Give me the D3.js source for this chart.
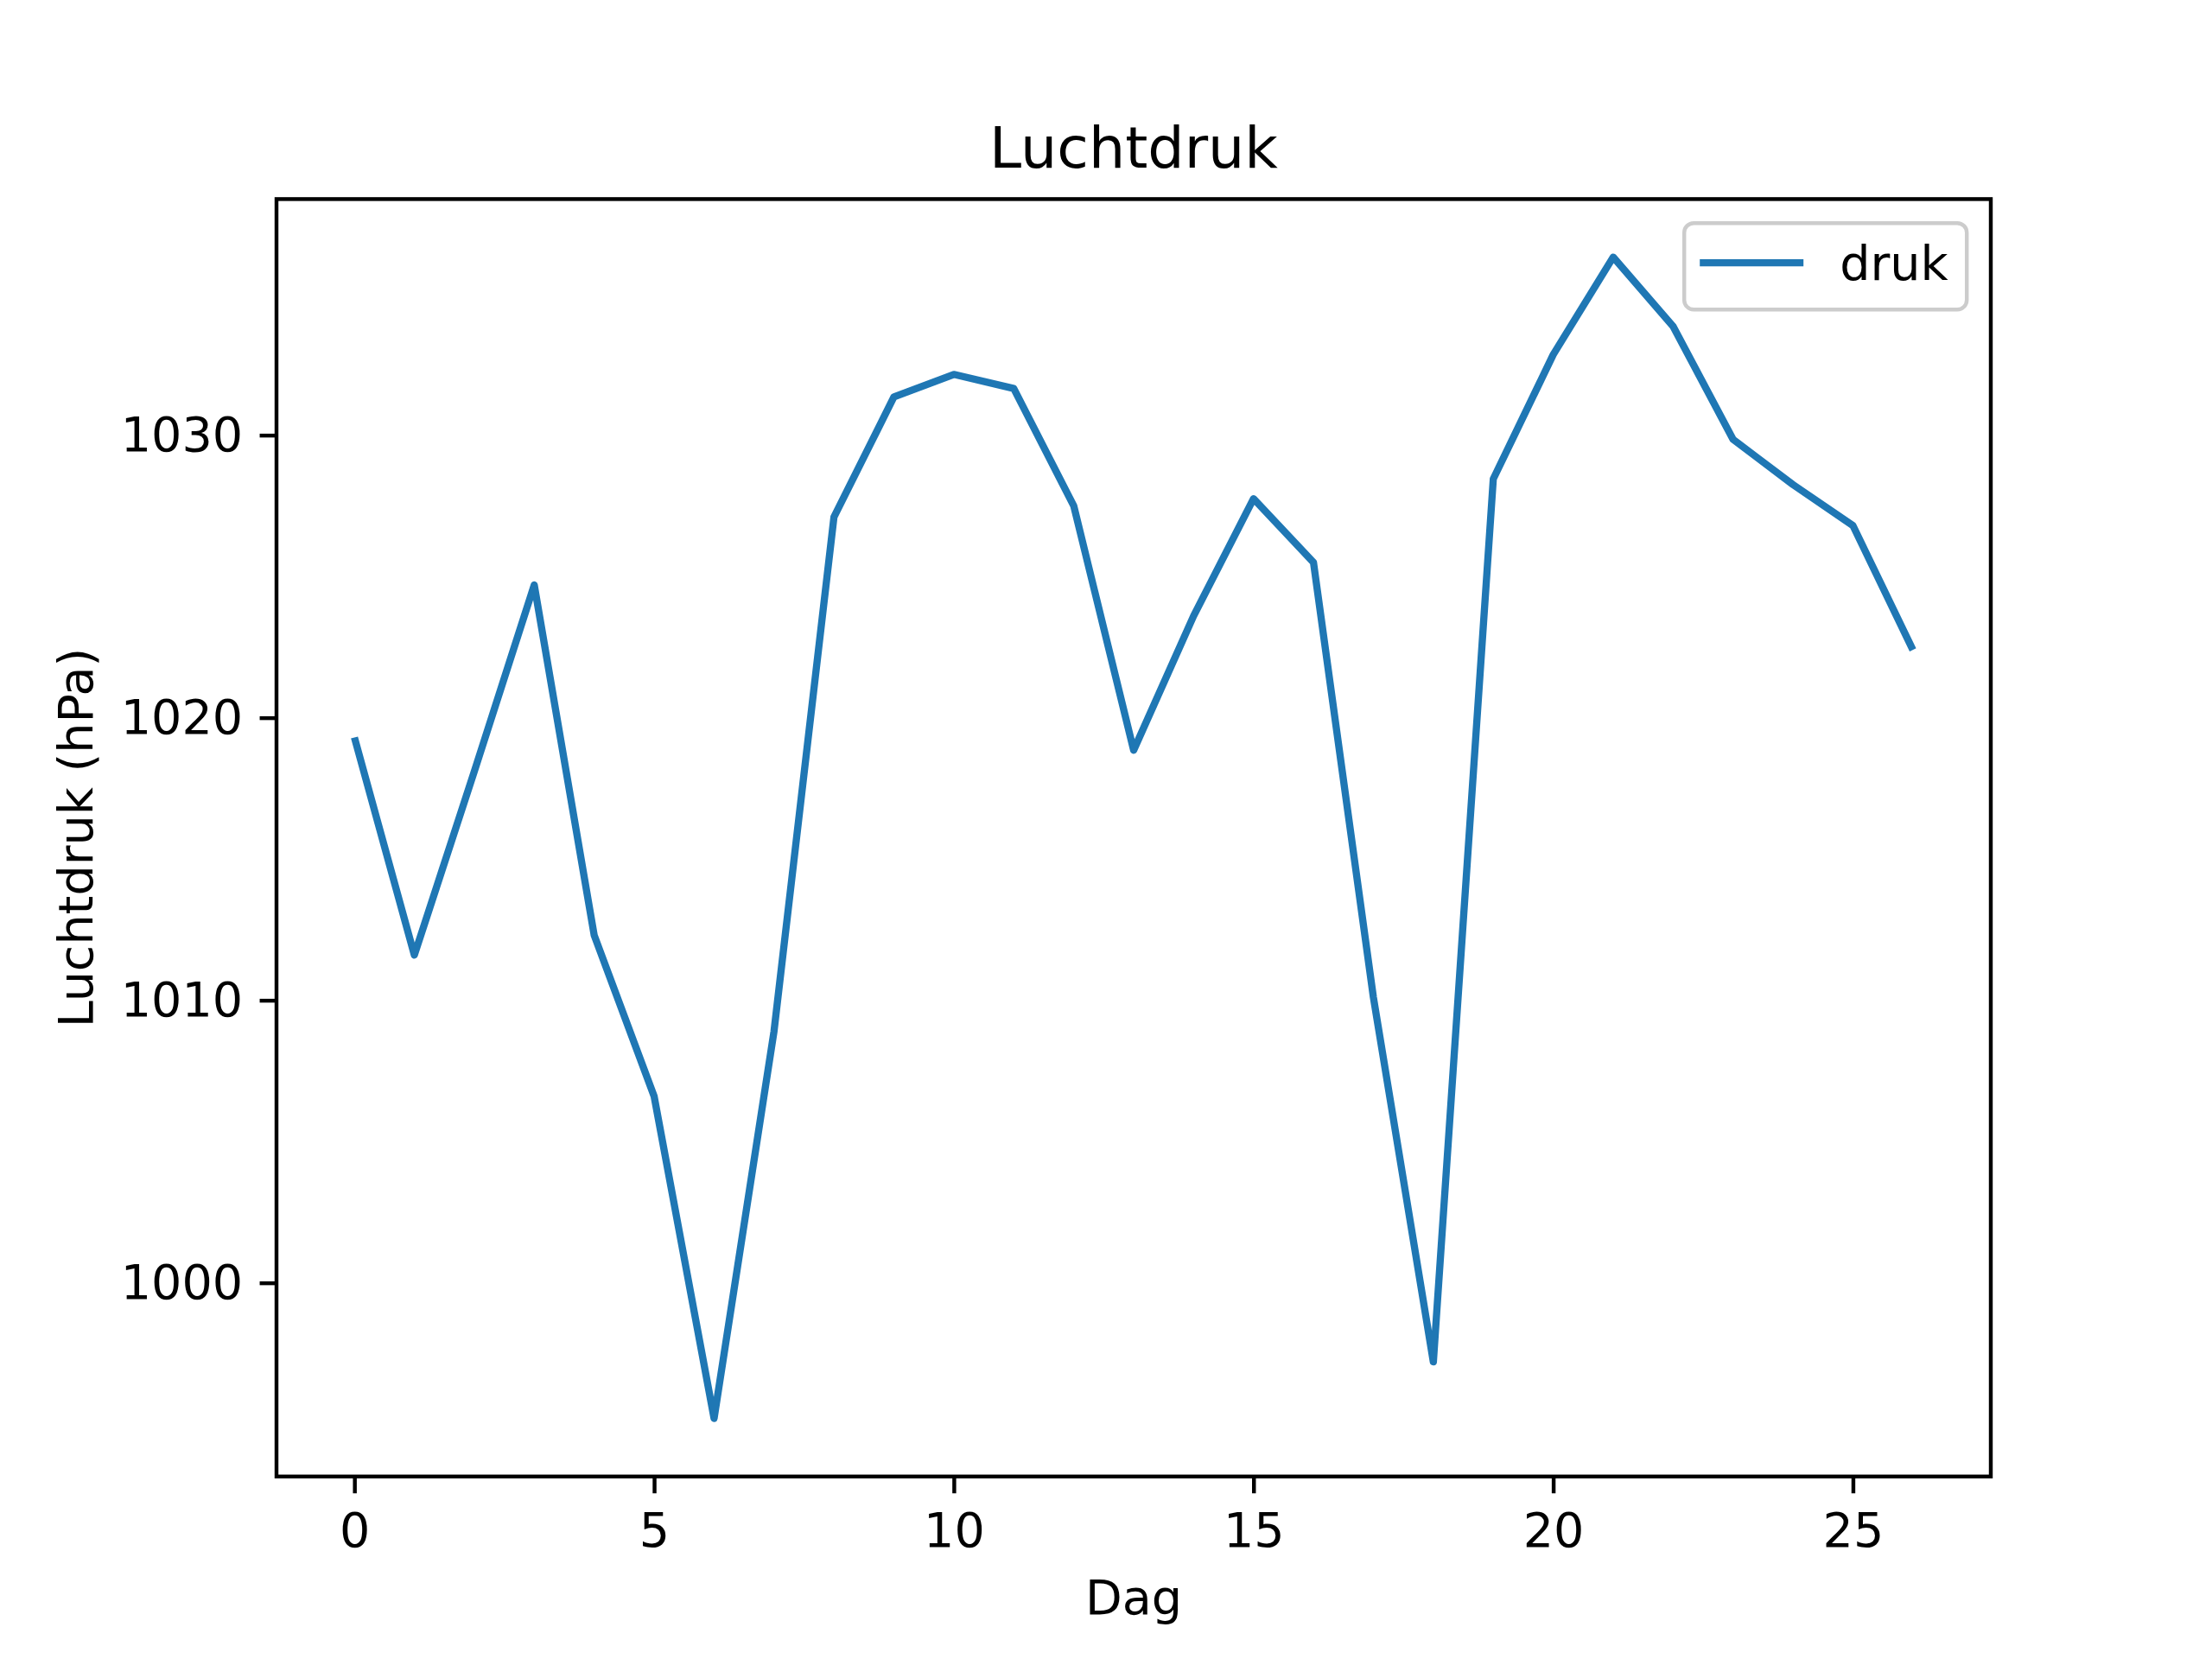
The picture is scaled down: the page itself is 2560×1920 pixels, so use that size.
<!DOCTYPE html>
<html>
<head>
<meta charset="utf-8">
<script src="https://cdn.jsdelivr.net/npm/d3@7"></script>
<style>
  body { margin: 0; background: #fff; }
  svg { display: block; font-family: "DejaVu Sans", sans-serif; }
</style>
</head>
<body>
<div id="chart"></div>
<script>
// dagen en luchtdruk (hPa)
const days = d3.range(0, 27);
const pressure = [
  1019.3, 1011.6, 1018.1, 1024.7, 1012.3, 1006.6, 995.2, 1008.9, 1027.1,
  1031.35, 1032.15, 1031.65, 1027.5, 1018.85, 1023.6, 1027.75, 1025.5,
  1010.1, 997.2, 1028.45, 1032.85, 1036.3, 1033.85, 1029.85, 1028.25,
  1026.8, 1022.4
];
const xTicks = [0, 5, 10, 15, 20, 25];
const yTicks = [1000, 1010, 1020, 1030];

const W = 2560, H = 1920;
const margin = { left: 320, right: 256, top: 230.4, bottom: 211.2 };
const width = W - margin.left - margin.right;
const height = H - margin.top - margin.bottom;
const pt = 400 / 72;

const svg = d3.select("#chart").append("svg")
  .attr("width", W).attr("height", H);

// schalen met 5% marge zoals matplotlib
const xExt = d3.extent(days), xPad = (xExt[1] - xExt[0]) * 0.05;
const yExt = d3.extent(pressure), yPad = (yExt[1] - yExt[0]) * 0.05;
const x = d3.scaleLinear().domain([xExt[0] - xPad, xExt[1] + xPad]).range([0, width]);
const y = d3.scaleLinear().domain([yExt[0] - yPad, yExt[1] + yPad]).range([height, 0]);

const g = svg.append("g")
  .attr("transform", `translate(${margin.left},${margin.top})`);

// lijn
const line = d3.line().x((d, i) => x(days[i])).y(d => y(d));
g.append("path")
  .datum(pressure)
  .attr("fill", "none")
  .attr("stroke", "#1f77b4")
  .attr("stroke-width", 1.5 * pt)
  .attr("stroke-linejoin", "round")
  .attr("stroke-linecap", "butt")
  .attr("d", line);

// assen
const gx = g.append("g")
  .attr("transform", `translate(0,${height})`)
  .call(d3.axisBottom(x).tickValues(xTicks).tickSize(3.5 * pt).tickPadding(3.5 * pt).tickFormat(d3.format("d")));
const gy = g.append("g")
  .call(d3.axisLeft(y).tickValues(yTicks).tickSize(3.5 * pt).tickPadding(3.5 * pt).tickFormat(d3.format("d")));

[gx, gy].forEach(a => {
  a.select(".domain").remove();
  a.selectAll(".tick line").attr("stroke", "#000").attr("stroke-width", 0.8 * pt);
  a.selectAll(".tick text")
    .attr("fill", "#000")
    .style("font-size", (10 * pt) + "px")
    .style("font-family", "DejaVu Sans");
});
gx.selectAll(".tick text").attr("dy", "0.76em");

// kader
g.append("rect")
  .attr("x", 0).attr("y", 0)
  .attr("width", width).attr("height", height)
  .attr("fill", "none")
  .attr("stroke", "#000")
  .attr("stroke-width", 0.8 * pt);

// titel en labels
svg.append("text")
  .attr("x", margin.left + width / 2)
  .attr("y", 194)
  .attr("text-anchor", "middle")
  .style("font-size", (12 * pt) + "px")
  .text("Luchtdruk");

svg.append("text")
  .attr("x", margin.left + width / 2)
  .attr("y", 1868)
  .attr("text-anchor", "middle")
  .style("font-size", (10 * pt) + "px")
  .text("Dag");

svg.append("text")
  .attr("transform", `translate(107,${margin.top + height / 2}) rotate(-90)`)
  .attr("text-anchor", "middle")
  .style("font-size", (10 * pt) + "px")
  .text("Luchtdruk (hPa)");

// legenda
const legend = g.append("g")
  .attr("transform", `translate(${width - 27.8 - 327},${27.8})`);
legend.append("rect")
  .attr("width", 327).attr("height", 100)
  .attr("rx", 11).attr("ry", 11)
  .attr("fill", "#fff").attr("fill-opacity", 0.8)
  .attr("stroke", "#cccccc").attr("stroke-width", 0.8 * pt);
legend.append("line")
  .attr("x1", 18).attr("x2", 138)
  .attr("y1", 46).attr("y2", 46)
  .attr("stroke", "#1f77b4").attr("stroke-width", 1.5 * pt);
legend.append("text")
  .attr("x", 180).attr("y", 66)
  .style("font-size", (10 * pt) + "px")
  .text("druk");
</script>
</body>
</html>
